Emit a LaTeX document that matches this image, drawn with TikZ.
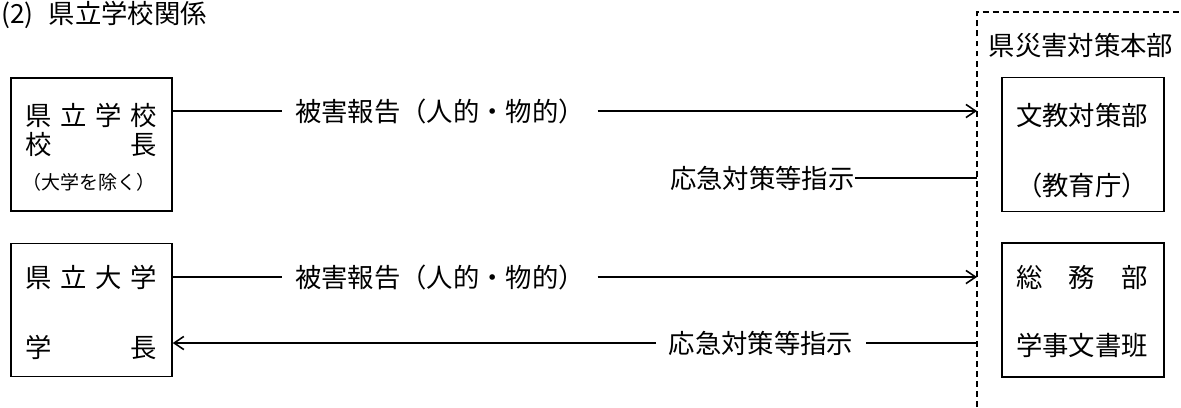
\documentclass[tikz,border=0pt]{standalone}
\usepackage{fontspec}
\setmainfont{Noto Sans CJK JP}
\usetikzlibrary{arrows.meta, positioning}

\newcommand{\spreadchars}[1]{\makebox[2.64cm][s]{#1}}

\tikzset{
  txt/.style={inner sep=0pt, font=\fontsize{15pt}{18pt}\selectfont},
  smalltxt/.style={inner sep=0pt, font=\fontsize{10.8pt}{13pt}\selectfont},
  lbl/.style={txt, inner xsep=7pt},
  box/.style={draw, line width=0.9pt, minimum width=3.22cm, minimum height=2.66cm},
  link/.style={line width=0.9pt},
  arr/.style={link, -{Straight Barb[length=5.5pt, width=7.5pt]}},
  hqframe/.style={line width=0.9pt, dash pattern=on 3.4pt off 2.3pt}
}

\begin{document}
\begin{tikzpicture}[x=0.02cm, y=-0.02cm]
  \useasboundingbox (0,0) rectangle (1181,407);
  \node[txt, anchor=west] (title) at (1,15) {(2)\hspace{0.3cm}県立学校関係};

  % schools
  \node[box] (pref) at (91.5,144.5) {};
  \node[box] (univ) at (91.5,310) {};
  \node[txt] (pref1) at (91,115) {\spreadchars{県\hfill 立\hfill 学\hfill 校}};
  \node[txt] (pref2) at (91,145) {\spreadchars{校\hfill 長}};
  \node[smalltxt] (pref3) at (89,182) {（大学を除く）};
  \node[txt] (univ1) at (91,277) {\spreadchars{県\hfill 立\hfill 大\hfill 学}};
  \node[txt] (univ2) at (91,347) {\spreadchars{学\hfill 長}};

  % headquarters
  \draw[hqframe] (977,407) -- (977,12) -- (1181,12);
  \node[txt] (hq) at (1081,45) {県災害対策本部};
  \node[box, minimum width=3.24cm, minimum height=2.68cm] (bunkyo) at (1083,144.5) {};
  \node[box, minimum width=3.24cm, minimum height=2.68cm] (somu) at (1083,310) {};
  \node[txt] (bunkyo1) at (1082,115) {文教対策部};
  \node[txt] (bunkyo2) at (1082,185) {（教育庁）};
  \node[txt] (somu1) at (1082,277) {\spreadchars{総\hfill 務\hfill 部}};
  \node[txt] (somu2) at (1082,345) {学事文書班};

  \coordinate (in1) at (977,111);
  \coordinate (in2) at (977,178);
  \coordinate (in3) at (977,277);
  \coordinate (in4) at (977,343);

  % reports and orders
  \node[lbl] (rep1) at (440,111) {被害報告（人的・物的）};
  \node[lbl] (rep2) at (440,277) {被害報告（人的・物的）};
  \node[txt, anchor=east] (ord1) at (855,178) {応急対策等指示};
  \node[lbl] (ord2) at (761,343) {応急対策等指示};

  \draw[link] (pref.east |- rep1) -- (rep1);
  \draw[arr] (rep1) -- (in1);
  \draw[link] (ord1) -- (in2);
  \draw[link] (univ.east |- rep2) -- (rep2);
  \draw[arr] (rep2) -- (in3);
  \draw[link] (in4) -- (ord2);
  \draw[arr] (ord2) -- (univ.east |- ord2);
\end{tikzpicture}
\end{document}
